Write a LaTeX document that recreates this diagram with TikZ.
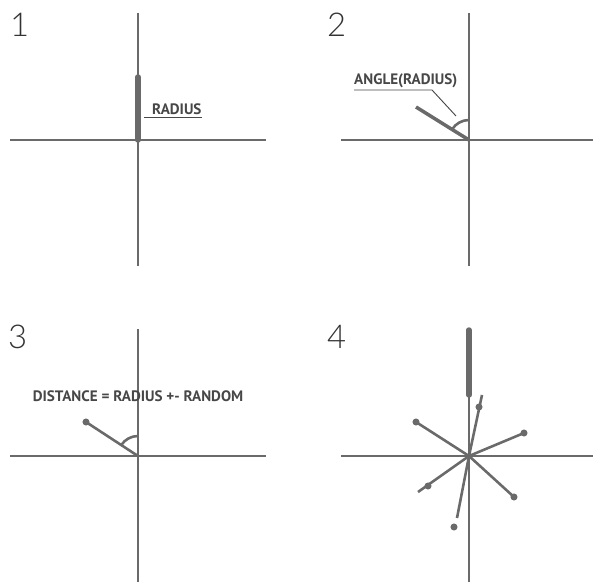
\documentclass[tikz,border=0pt]{standalone}
\usepackage{fontspec}
\setmainfont{PT Sans}
\newfontfamily\numfont{Lato}[UprightFont={* Light}]
\usetikzlibrary{positioning,calc}
\definecolor{axisgray}{HTML}{6A6A6A}
\definecolor{ink}{HTML}{474747}
\tikzset{
  axisline/.style={draw=axisgray, line width=2.4pt},
  radline/.style={draw=axisgray, line width=4.6pt, line cap=round},
  spoke/.style={draw=axisgray, line width=2.2pt},
  ul/.style={draw=ink, line width=0.8pt},
  tip/.style={circle, fill=axisgray, inner sep=0pt, minimum size=6pt},
  lbl/.style={font=\fontsize{12.9}{15}\selectfont\bfseries, text=ink, inner sep=0pt},
  num/.style={font=\fontsize{28}{30}\selectfont\numfont, text=black!80, inner sep=0pt, anchor=base west},
}

\begin{document}
\begin{tikzpicture}[x=0.03cm, y=0.03cm]
  \useasboundingbox (0,0) rectangle (593,581);
  % the four crosses
  \foreach \cx/\cy in {138/441, 469/441, 138/125, 469/125} {
    \draw[axisline] (\cx-128,\cy) -- (\cx+128,\cy);
    \draw[axisline] (\cx,\cy+127) -- (\cx,\cy-126);
  }

  % 1: radius
  \begin{scope}[shift={(138,441)}]
    \coordinate (o1) at (0,0);
    \coordinate (r1) at (0,63);
    \node[num] (n1) at (-128,103) {1};
    \draw[radline] (o1) -- (r1);
    \node[lbl, anchor=base west] (l1) at (14,25) {RADIUS};
    \coordinate (u1) at (6,23);
    \draw[ul] (u1) -- (u1 -| l1.east);
  \end{scope}

  % 2: angle
  \begin{scope}[shift={(469,441)}]
    \coordinate (o2) at (0,0);
    \coordinate (r2) at (-53,33);
    \node[num] (n2) at (-142,103) {2};
    \draw[spoke, line width=3pt] (o2) -- (r2);
    \draw[spoke] (0,20) arc[start angle=90, end angle=148, radius=20];
    \node[lbl, anchor=base west] (l2) at (-115,55) {ANGLE(RADIUS)};
    \coordinate (u2) at (-37,50);
    \coordinate (a2) at (-13,24);
    \draw[ul] (u2 -| l2.west) -- (u2) -- (a2);
  \end{scope}

  % 3: distance
  \begin{scope}[shift={(138,125)}]
    \coordinate (o3) at (0,0);
    \node[num] (n3) at (-130,108) {3};
    \node[tip] (d3) at (-52,34) {};
    \draw[spoke] (o3) -- (d3.center);
    \draw[spoke] (0,20) arc[start angle=90, end angle=147, radius=20];
    \node[lbl, anchor=base] (l3) at (0,55) {DISTANCE = RADIUS +- RANDOM};
  \end{scope}

  % 4: many points
  \begin{scope}[shift={(469,125)}]
    \coordinate (o4) at (0,0);
    \coordinate (r4a) at (0,126);
    \coordinate (r4b) at (0,61);
    \node[num] (n4) at (-142,108) {4};
    \draw[radline] (r4a) -- (r4b);
    \node[tip] (p1) at (-53,34) {};
    \node[tip] (p2) at (55,23) {};
    \node[tip] (p3) at (45,-41) {};
    \draw[spoke] (o4) -- (p1.center);
    \draw[spoke] (o4) -- (p2.center);
    \draw[spoke] (o4) -- (p3.center);
    \coordinate (e4) at (-51,-36);
    \node[tip] (p4) at (-41,-30) {};
    \draw[spoke] (o4) -- (e4);
    \coordinate (e5) at (13,61);
    \node[tip] (p5) at (10,49) {};
    \draw[spoke] (o4) -- (e5);
    \coordinate (e6) at (-12,-62);
    \node[tip] (p6) at (-15,-71) {};
    \draw[spoke] (o4) -- (e6);
  \end{scope}
\end{tikzpicture}
\end{document}
